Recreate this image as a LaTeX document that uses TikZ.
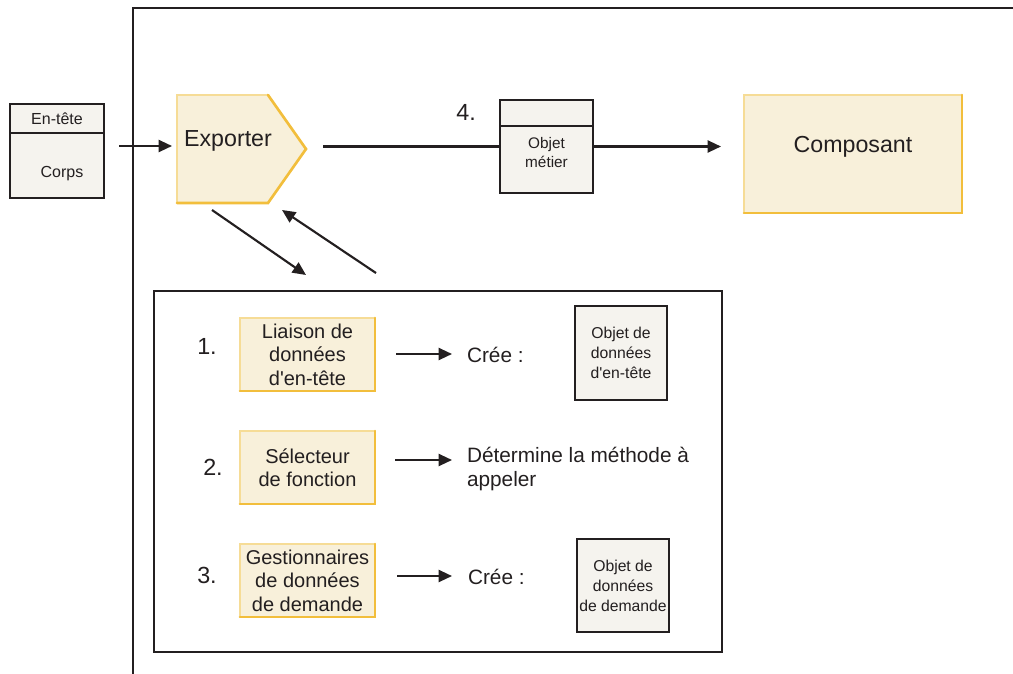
\documentclass[tikz,border=0pt]{standalone}
\usepackage{fontspec}
\setmainfont{Liberation Sans}[Ligatures=TeXOff]
\usetikzlibrary{arrows.meta,calc}
\definecolor{ybg}{HTML}{F8F0DA}
\definecolor{yedge}{HTML}{F6DC96}
\definecolor{ydark}{HTML}{F2BE3C}
\definecolor{gbg}{HTML}{F5F3EE}
\definecolor{ink}{HTML}{231F20}
\newcommand{\fs}[2]{\fontsize{#1}{#2}\selectfont}
\tikzset{
  every node/.style={inner sep=0pt, outer sep=0pt, text=ink},
  ybox/.style={rectangle, fill=ybg, draw=yedge, line width=1.1pt, minimum width=101.25pt, minimum height=54.75pt, align=center, font=\fs{15pt}{17.6pt}},
  gbox/.style={rectangle, fill=gbg, draw=ink, line width=1.4pt, align=center, font=\fs{11.8pt}{15pt}},
  num/.style={font=\fs{17.5pt}{18pt}},
  txt/.style={font=\fs{15.6pt}{18pt}, align=left, anchor=west},
  ln/.style={draw=ink, line width=1.6pt},
  arr/.style={ln, -{Triangle[length=10pt,width=9pt]}},
  edgedark/.style={draw=ydark, line width=2pt, line cap=round}
}
\begin{document}
\begin{tikzpicture}[x=0.75pt, y=-0.75pt]
\useasboundingbox (0,0) rectangle (1013,674);
% frame
\draw[ln] (133,674) -- (133,8) -- (1013,8);

% message
\node[gbox, minimum width=70.5pt, minimum height=70.5pt] (msg) at (57,151) {};
\draw[ink, line width=1.4pt] ($(msg.north west)+(0,29)$) -- ($(msg.north east)+(0,29)$);
\node[font=\fs{12pt}{14pt}] (msghead) at (57,119) {En-tête};
\node[font=\fs{12pt}{14pt}] (msgbody) at (62,174) {Corps};

% exporter
\node[minimum width=96.75pt, minimum height=81pt] (exp) at (241.5,149) {};
\fill[ybg] (exp.north west) -- ($(exp.north west)+(91,0)$) -- (exp.east) -- ($(exp.south west)+(91,0)$) -- (exp.south west) -- cycle;
\draw[yedge, line width=1.1pt] (exp.south west) -- (exp.north west) -- ($(exp.north west)+(91,0)$);
\draw[edgedark] ($(exp.north west)+(91,0)$) -- (exp.east) -- ($(exp.south west)+(91,0)$) -- (exp.south west);
\node[font=\fs{17.4pt}{20pt}] (exptext) at (228,141) {Exporter};

\draw[arr] ($(msg.east)+(15,-5)$) -- ($(exp.west)+(-5,-3)$);

% objet metier
\node[gbox, minimum width=69.75pt, minimum height=69.75pt] (objm) at (546.5,146.5) {};
\draw[ink, line width=1.4pt] ($(objm.north west)+(0,26)$) -- ($(objm.north east)+(0,26)$);
\node[align=center, font=\fs{11.5pt}{14.25pt}] (objmtext) at (546.5,153) {Objet\\métier};
\node[num] (n4) at (466,112) {4.};

% composant
\node[rectangle, fill=ybg, draw=yedge, line width=1.1pt, minimum width=163.5pt, minimum height=88.5pt] (comp) at (853,154) {};
\node[font=\fs{17.4pt}{20pt}] (comptext) at (853,147) {Composant};

\draw[ln] ($(objm.west)+(-177,0)$) -- (objm.west);
\draw[arr] (objm.east) -- ($(objm.east -| comp.west)+(-23,0)$);

% inner box
\node[rectangle, draw=ink, line width=1.4pt, minimum width=426pt, minimum height=270.75pt] (inner) at (438,471.5) {};

\draw[arr] ($(exp.south west)+(35,7)$) -- ($(inner.north west)+(152,-16)$);
\draw[arr] ($(inner.north west)+(222,-18)$) -- ($(exp.south west)+(105,7)$);

% row 1
\node[num] (n1) at (207,346) {1.};
\node[ybox] (lia) at (307.5,354.5) {Liaison de\\données\\d'en-tête};
\node[txt] (cree1) at (467,355) {Crée :};
\draw[arr] ($(lia.east)+(21,-0.5)$) -- ($(cree1.west)+(-15,-1)$);
\node[gbox, minimum width=69pt, minimum height=70.5pt] (ohd) at (621,353) {Objet de\\données\\d'en-tête};

% row 2
\node[num] (n2) at (213,467) {2.};
\node[ybox] (sel) at (307.5,467.5) {Sélecteur\\de fonction};
\node[txt] (det) at (467,469) {Détermine la méthode à\\appeler};
\draw[arr] ($(sel.east)+(20,-7.5)$) -- ($(det.west)+(-15,-9)$);

% row 3
\node[num] (n3) at (207,575) {3.};
\node[ybox] (ges) at (307.5,580.5) {Gestionnaires\\de données\\de demande};
\node[txt] (cree3) at (468,577) {Crée :};
\draw[arr] ($(ges.east)+(22,-4.5)$) -- ($(cree3.west)+(-16,-1)$);
\node[gbox, minimum width=69pt, minimum height=69.75pt] (odd) at (623,585.5) {Objet de\\données\\de demande};

\foreach \n in {lia,sel,ges,comp} \draw[edgedark] (\n.north east) -- (\n.south east) -- (\n.south west);
\end{tikzpicture}
\end{document}
